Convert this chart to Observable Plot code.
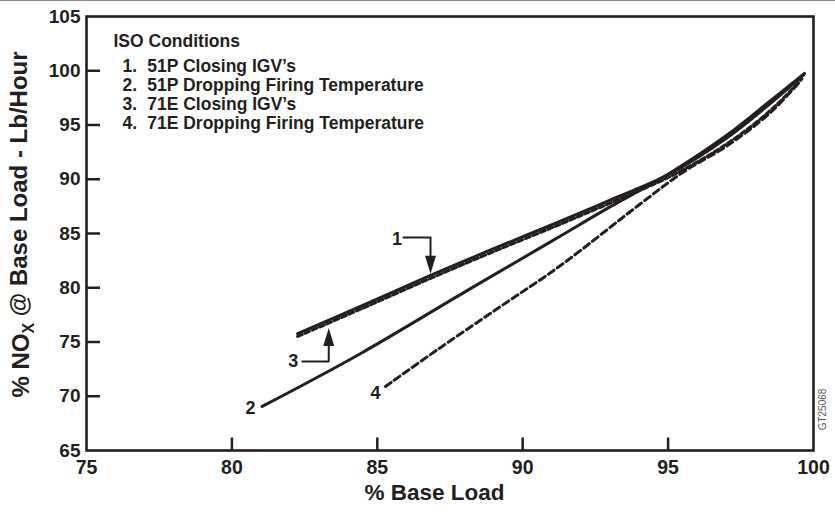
<!DOCTYPE html>
<html><head><meta charset="utf-8">
<script src="https://cdn.jsdelivr.net/npm/d3@7"></script>
<script src="https://cdn.jsdelivr.net/npm/@observablehq/plot@0.6"></script>
<style>
html,body{margin:0;padding:0;background:#fff;}
#wrap{position:relative;width:835px;height:514px;overflow:hidden;}
#topline{position:absolute;left:0;top:0;width:835px;height:1px;background:#8a8a8a;}
#wrap svg{display:block;}
</style></head><body><div id="wrap"><div id="topline"></div></div>
<script>
// Axis values
const xLabels = [75, 80, 85, 90, 95, 100];
const xTicks = [80, 85, 90, 95];
const yLabels = [65, 70, 75, 80, 85, 90, 95, 100, 105];
const yTicks = [70, 75, 80, 85, 90, 95, 100];

// Series
// 1. 51P Closing IGV's (solid)
const c1X = [82.26, 84.5, 86.83, 89.0, 91.30, 93.2, 95.08, 97.04, 98.5, 99.67];
const c1Y = [75.78, 78.38, 81.13, 83.6, 86.13, 88.3, 90.53, 93.85, 96.95, 99.65];
// 2. 51P Dropping Firing Temperature (solid)
const c2X = [81.04, 84.4, 88.0, 91.0, 93.0, 95.08, 97.04, 98.5, 99.69];
const c2Y = [69.06, 73.9, 79.6, 84.3, 87.45, 90.6, 94.1, 97.2, 99.75];
// 3. 71E Closing IGV's (dashed)
const c3X = [82.26, 84.5, 86.83, 89.0, 91.30, 93.2, 95.08, 97.04, 98.5, 99.6];
const c3Y = [75.51, 78.11, 80.86, 83.33, 85.86, 88.03, 90.26, 93.3, 96.3, 99.25];
// 4. 71E Dropping Firing Temperature (dashed)
const c4X = [85.28, 87.06, 89.2, 91.30, 94.05, 95.54, 97.04, 98.5, 99.55];
const c4Y = [70.90, 74.28, 78.2, 82.05, 87.74, 90.7, 93.1, 96.1, 99.05];

// Legend text
const legendTitle = "ISO Conditions";
const legendNums = ["1.", "2.", "3.", "4."];
const legendNames = ["51P Closing IGV\u2019s", "51P Dropping Firing Temperature", "71E Closing IGV\u2019s", "71E Dropping Firing Temperature"];

// Callout labels
const calloutText = ["1", "2", "3", "4"];
const calloutX = [85.68, 80.64, 82.11, 84.94];
const calloutY = [84.45, 68.87, 73.20, 70.25];

// Callout leader lines and arrow tips
const lead1X = [85.90, 86.83, 86.83];
const lead1Y = [84.63, 84.63, 82.3];
const lead3X = [82.42, 83.33, 83.33];
const lead3Y = [73.20, 73.20, 75.3];
const tipX = [86.83, 83.33];
const tipY = [81.30, 76.3];
const tipRotate = [0, 180];

const xTitle = "% Base Load";
const yTitle = "% NOX @ Base Load - Lb/Hour";
const figId = "GT25068";

const ink = "#231f20";
const rows = (xs, ys) => xs.map((x, i) => ({x, y: ys[i]}));

const arrowHead = {
  draw(ctx) {
    ctx.moveTo(0, 0);
    ctx.lineTo(-5.5, -18);
    ctx.lineTo(5.5, -18);
    ctx.closePath();
  }
};

const font = "'Liberation Sans', Arial, Helvetica, sans-serif";
const T = {textAnchor: "start", lineAnchor: "middle", fontSize: 17.5, fill: ink};

const plot = Plot.plot({
  width: 835,
  height: 514,
  marginLeft: 86,
  marginRight: 22,
  marginTop: 16,
  marginBottom: 64,
  style: {fontFamily: font, fontWeight: "bold", color: ink, background: "white", overflow: "visible"},
  x: {domain: [75, 100], label: null},
  y: {domain: [65, 105], label: null},
  marks: [
    // tick labels
    Plot.axisY(yLabels, {tickSize: 0, tickPadding: 6, fontSize: 19, label: null, fill: ink}),
    Plot.axisX(xLabels, {tickSize: 0, tickPadding: 10, fontSize: 19.5, label: null, fill: ink}),
    // inward ticks
    Plot.axisY(yTicks, {tickSize: 14, dx: 14, strokeWidth: 2.5, stroke: ink, fill: "none", label: null}),
    Plot.axisX(xTicks, {tickSize: 12.5, dy: -12.5, strokeWidth: 2.5, stroke: ink, fill: "none", label: null}),
    Plot.frame({stroke: ink, strokeWidth: 2.6}),
    // curves
    Plot.line(rows(c3X, c3Y), {x: "x", y: "y", curve: "catmull-rom", stroke: ink, strokeWidth: 3, strokeDasharray: "5,3"}),
    Plot.line(rows(c4X, c4Y), {x: "x", y: "y", curve: "catmull-rom", stroke: ink, strokeWidth: 3, strokeDasharray: "7,4"}),
    Plot.line(rows(c2X, c2Y), {x: "x", y: "y", curve: "catmull-rom", stroke: ink, strokeWidth: 3}),
    Plot.line(rows(c1X, c1Y), {x: "x", y: "y", curve: "catmull-rom", stroke: ink, strokeWidth: 3}),
    // callouts
    Plot.line(rows(lead1X, lead1Y), {x: "x", y: "y", stroke: ink, strokeWidth: 2}),
    Plot.line(rows(lead3X, lead3Y), {x: "x", y: "y", stroke: ink, strokeWidth: 2}),
    Plot.dot(tipX, {x: tipX, y: tipY, rotate: tipRotate, symbol: arrowHead, fill: ink, stroke: "none"}),
    Plot.text(calloutText, {x: calloutX, y: calloutY, text: d => d, fontSize: 18, fill: ink}),
    // legend
    Plot.text([legendTitle], {...T, frameAnchor: "top-left", dx: 27, dy: 25}),
    ...legendNums.map((n, i) => Plot.text([n], {...T, frameAnchor: "top-left", dx: 36, dy: 50 + i * 18.9})),
    ...legendNames.map((n, i) => Plot.text([n], {...T, frameAnchor: "top-left", dx: 60.7, dy: 50 + i * 18.9})),
    // axis titles
    Plot.text([xTitle], {frameAnchor: "bottom", textAnchor: "middle", lineAnchor: "middle", dx: -15.5, dy: 42, fontSize: 22.5, fill: ink}),
    Plot.text([yTitle], {frameAnchor: "left", textAnchor: "middle", lineAnchor: "middle", dx: -65, dy: -9, rotate: -90, fontSize: 24, fill: ink}),
    Plot.text([figId], {frameAnchor: "right", textAnchor: "middle", lineAnchor: "middle", dx: 9.7, dy: 176, rotate: -90, fontSize: 10, fontWeight: "normal", fill: "#555"})
  ]
});

document.getElementById("wrap").appendChild(plot);

// Subscript X in the y-axis title
d3.select(plot).selectAll("text").each(function() {
  if (this.textContent === yTitle) {
    const t = d3.select(this);
    t.text(null);
    t.append("tspan").text("% NO");
    t.append("tspan").attr("font-size", "16").attr("dy", "0.3em").text("X");
    t.append("tspan").attr("dy", "-0.3em").text(" @ Base Load - Lb/Hour");
  }
});
</script>
</body></html>
